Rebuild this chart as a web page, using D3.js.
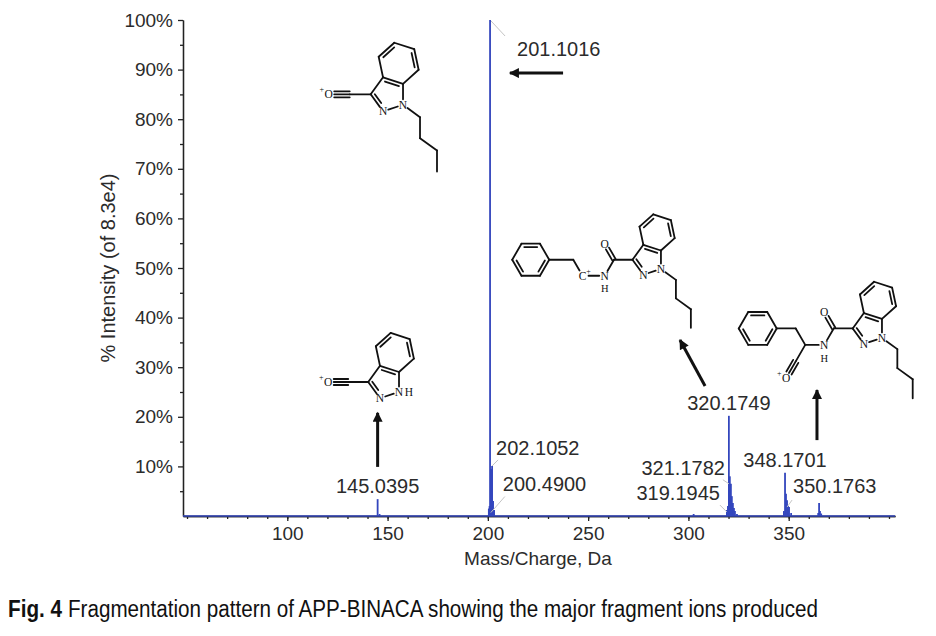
<!DOCTYPE html>
<html lang="en">
<head>
<meta charset="UTF-8">
<title>Fragmentation pattern of APP-BINACA</title>
<style>
  body { margin: 0; background: #fff; }
  svg { display: block; font-family: "Liberation Sans", Arial, Helvetica, sans-serif; }
  .axis path, .axis line { stroke: #222; stroke-width: 1.3; }
  .axis text { font-size: 19px; fill: #2b2b2b; font-family: "Liberation Sans", Arial, sans-serif; }
  .peak-label { font-size: 20px; fill: #2b2b2b; }
  .atom { font-family: "Liberation Serif", "Times New Roman", serif; font-size: 11.5px; fill: #111; }
  .caption { font-family: "Liberation Sans Narrow", "Arial Narrow", "Liberation Sans", sans-serif; font-size: 23px; fill: #111; }
</style>
</head>
<body>
<svg width="936" height="636"></svg>
<script src="https://cdnjs.cloudflare.com/ajax/libs/d3/7.8.5/d3.min.js"></script>
<script>
// spectrum sticks, m/z and % of base peak (8.3e4)
const peakMz  = [145.04, 146.0, 200.49, 200.85, 201.10, 201.60, 202.11, 202.60, 203.11, 302.6,
                 319.19, 319.70, 320.17, 320.65, 321.18, 321.65, 322.18, 322.70, 323.20, 324.2,
                 347.60, 348.17, 348.65, 349.17, 349.65, 350.18, 351.2, 364.70, 365.15, 365.6, 366.2];
const peakPct = [3.4, 0.4, 1.5, 2.0, 100, 9.5, 10.1, 3.0, 1.2, 0.4,
                 1.2, 2.0, 20.2, 8.0, 6.5, 4.0, 2.6, 1.6, 1.0, 0.4,
                 1.0, 8.7, 4.5, 3.2, 2.0, 1.8, 0.6, 0.6, 2.6, 1.0, 0.5];

// labelled ions
const labelMz  = [201.1016, 202.1052, 200.4900, 145.0395, 320.1749, 321.1782, 319.1945, 348.1701, 350.1763];
const labelPct = [100, 10.1, 1.5, 3.4, 20.2, 6.5, 1.2, 8.7, 1.8];

const yTicks = [10, 20, 30, 40, 50, 60, 70, 80, 90, 100];
const yMinor = [5, 15, 25, 35, 45, 55, 65, 75, 85, 95];
const xTicks = [100, 150, 200, 250, 300, 350];
const xMinor = d3.range(50, 401, 10);

// arrows (m/z, %) from -> to
const arrowFrom = [[237.5, 89.3], [145.04, 9.9], [308.3, 26.2], [364.1, 15.3]];
const arrowTo   = [[211.0, 89.3], [145.04, 20.8], [295.8, 35.5], [364.1, 25.4]];

// where each fragment structure sits (position of indazole N1)
const structAt = [[157.7, 82.9], [155.7, 25.0], [286.3, 49.8], [396.5, 35.9]];

const svg = d3.select("svg");

const x = d3.scaleLinear().domain([48, 403]).range([183, 895]);
const y = d3.scaleLinear().domain([0, 100]).range([516, 20]);

// axes
svg.append("g").attr("class", "axis")
  .attr("transform", `translate(${x(48)},0)`)
  .call(d3.axisLeft(y).tickValues(yMinor).tickSize(3).tickSizeOuter(0).tickFormat(""));
svg.append("g").attr("class", "axis")
  .attr("transform", `translate(${x(48)},0)`)
  .call(d3.axisLeft(y).tickValues(yTicks).tickSize(5).tickSizeOuter(0).tickPadding(5).tickFormat(d => d + "%"));

svg.append("g").attr("class", "axis")
  .attr("transform", `translate(0,${y(0)})`)
  .call(d3.axisBottom(x).tickValues(xMinor).tickSize(3).tickSizeOuter(0).tickFormat(""));
svg.append("g").attr("class", "axis")
  .attr("transform", `translate(0,${y(0)})`)
  .call(d3.axisBottom(x).tickValues(xTicks).tickSize(5).tickSizeOuter(0).tickPadding(5.5));

svg.append("text")
  .attr("transform", `translate(115,268) rotate(-90)`)
  .attr("text-anchor", "middle")
  .attr("font-size", 20).attr("fill", "#2b2b2b")
  .text("% Intensity (of 8.3e4)");

svg.append("text")
  .attr("x", 538).attr("y", 565)
  .attr("text-anchor", "middle")
  .attr("font-size", 19).attr("fill", "#2b2b2b")
  .text("Mass/Charge, Da");

// spectrum
const blue = "#3346bd";
svg.append("line")
  .attr("x1", x(48)).attr("x2", x(403))
  .attr("y1", y(0)).attr("y2", y(0))
  .attr("stroke", blue).attr("stroke-width", 1.3);

svg.append("g").selectAll("line")
  .data(peakMz)
  .join("line")
  .attr("x1", d => x(d)).attr("x2", d => x(d))
  .attr("y1", y(0))
  .attr("y2", (d, i) => y(peakPct[i]))
  .attr("stroke", blue)
  .attr("stroke-width", 1.8);

// peak labels, offsets in px from the peak top
const labelLayout = [
  {dx: 27, dy: 36, anchor: "start", leader: [1, 1, 15, 16]},
  {dx: 4, dy: -11, anchor: "start", leader: [0, 0, 6, -6]},
  {dx: 14, dy: -18, anchor: "start", leader: [2, 4, 16, -12]},
  {dx: 0, dy: -6, anchor: "middle"},
  {dx: 0, dy: -6, anchor: "middle"},
  {dx: -6, dy: -9, anchor: "end", leader: [-8, -4, -2, 0]},
  {dx: -7, dy: -10, anchor: "end", leader: [-7, -5, 0, 2]},
  {dx: 0, dy: -6, anchor: "middle"},
  {dx: 4, dy: -14, anchor: "start", leader: [3, -7, -2, 0]}
];

labelMz.forEach((m, i) => {
  const px = x(m), py = y(labelPct[i]), o = labelLayout[i];
  if (o.leader) {
    svg.append("line")
      .attr("x1", px + o.leader[0]).attr("y1", py + o.leader[1])
      .attr("x2", px + o.leader[2]).attr("y2", py + o.leader[3])
      .attr("stroke", "#c4c4c4").attr("stroke-width", 1);
  }
  svg.append("text")
    .attr("class", "peak-label")
    .attr("x", px + o.dx).attr("y", py + o.dy)
    .attr("text-anchor", o.anchor)
    .text(m.toFixed(4));
});

// arrows
svg.append("defs").append("marker")
  .attr("id", "head")
  .attr("viewBox", "0 0 10 10")
  .attr("refX", 9).attr("refY", 5)
  .attr("markerUnits", "userSpaceOnUse")
  .attr("markerWidth", 11).attr("markerHeight", 10)
  .attr("orient", "auto")
  .append("path").attr("d", "M0,0L10,5L0,10z").attr("fill", "#111");

svg.append("g").selectAll("line")
  .data(arrowFrom)
  .join("line")
  .attr("x1", d => x(d[0])).attr("y1", d => y(d[1]))
  .attr("x2", (d, i) => x(arrowTo[i][0])).attr("y2", (d, i) => y(arrowTo[i][1]))
  .attr("stroke", "#111").attr("stroke-width", 3)
  .attr("marker-end", "url(#head)");

// ---- fragment structures ----
const rad = Math.PI / 180;
const mol = svg.append("g")
  .attr("stroke", "#111").attr("stroke-width", 1.8)
  .attr("fill", "none").attr("stroke-linecap", "round");
const atoms = svg.append("g").attr("class", "atom").attr("text-anchor", "middle");
const T = 5.5;

const pt = (p, ang, len) => [p[0] + len * Math.cos(ang * rad), p[1] + len * Math.sin(ang * rad)];
const centroid = ps => [d3.mean(ps, p => p[0]), d3.mean(ps, p => p[1])];

function seg(a, b) {
  mol.append("line").attr("x1", a[0]).attr("y1", a[1]).attr("x2", b[0]).attr("y2", b[1]);
}

function bond(a, b, o = {}) {
  let dx = b[0] - a[0], dy = b[1] - a[1], d = Math.hypot(dx, dy);
  const ta = o.ta || 0, tb = o.tb || 0;
  const p = [a[0] + dx * ta / d, a[1] + dy * ta / d];
  const q = [b[0] - dx * tb / d, b[1] - dy * tb / d];
  dx = q[0] - p[0]; dy = q[1] - p[1]; d = Math.hypot(dx, dy);
  const nx = -dy / d, ny = dx / d;
  const order = o.order || 1;
  if (order === 1) { seg(p, q); return; }
  if (o.ring) {
    seg(p, q);
    const mx = (p[0] + q[0]) / 2, my = (p[1] + q[1]) / 2;
    const side = ((o.ring[0] - mx) * nx + (o.ring[1] - my) * ny) > 0 ? 1 : -1;
    const off = 3.4 * side, f = 0.15;
    seg([p[0] + dx * f + nx * off, p[1] + dy * f + ny * off],
        [q[0] - dx * f + nx * off, q[1] - dy * f + ny * off]);
    return;
  }
  const offs = order === 2 ? [-1.8, 1.8] : [-3, 0, 3];
  offs.forEach(k => seg([p[0] + nx * k, p[1] + ny * k], [q[0] + nx * k, q[1] + ny * k]));
}

function atom(p, txt, dx = 0, dy = 0, size) {
  const t = atoms.append("text")
    .attr("x", p[0] + dx).attr("y", p[1] + dy)
    .attr("dy", "0.35em")
    .text(txt);
  if (size) t.attr("font-size", size);
}

function indazole(n1, L) {
  const loc = {
    C3a: [0, 0], C4: [-0.5, -0.866], C5: [0, -1.732], C6: [1, -1.732], C7: [1.5, -0.866],
    C7a: [1, 0], N1: [1.309, 0.951], N2: [0.5, 1.539], C3: [-0.309, 0.951]
  };
  const c = Math.cos(18 * rad), s = Math.sin(18 * rad);
  const rot = p => [p[0] * c - p[1] * s, p[0] * s + p[1] * c];
  const r1 = rot(loc.N1);
  const a = {};
  for (const k in loc) {
    const r = rot(loc[k]);
    a[k] = [n1[0] + (r[0] - r1[0]) * L, n1[1] + (r[1] - r1[1]) * L];
  }
  const hc = centroid([a.C3a, a.C4, a.C5, a.C6, a.C7, a.C7a]);
  const pc = centroid([a.C3a, a.C7a, a.N1, a.N2, a.C3]);
  bond(a.C3a, a.C4);
  bond(a.C4, a.C5, {order: 2, ring: hc});
  bond(a.C5, a.C6);
  bond(a.C6, a.C7, {order: 2, ring: hc});
  bond(a.C7, a.C7a);
  bond(a.C3a, a.C7a, {order: 2, ring: pc});
  bond(a.C7a, a.N1, {tb: T});
  bond(a.N1, a.N2, {ta: T, tb: T});
  bond(a.N2, a.C3, {ta: T, order: 2, ring: pc});
  bond(a.C3, a.C3a);
  atom(a.N1, "N");
  atom(a.N2, "N");
  return a;
}

function butyl(n1, L) {
  let p = n1;
  [36, 90, 36, 90].forEach((ang, i) => {
    const q = pt(p, ang, L);
    bond(p, q, {ta: i === 0 ? T : 0});
    p = q;
  });
}

function phenyl(attach, L) {
  const c = pt(attach, 180, L);
  const v = d3.range(6).map(k => pt(c, k * 60, L));
  v.forEach((p, k) => bond(p, v[(k + 1) % 6], {order: k % 2 === 0 ? 2 : 1, ring: c}));
}

function acylium(from, ang, L) {
  const c = pt(from, ang, L), o = pt(c, ang, L);
  bond(from, c);
  bond(c, o, {order: 3, tb: T});
  atom(o, "O");
  atom(o, "+", -7, -5, 8);
}

function amideNH(n) {
  atom(n, "N");
  atom(n, "H", 0, 13, 10.5);
}

const S = structAt.map(d => [x(d[0]), y(d[1])]);

// 201 ion
{
  const L = 21, a = indazole(S[0], L);
  acylium(a.C3, 180, L);
  butyl(a.N1, L);
}
// 145 ion
{
  const L = 20, a = indazole(S[1], L);
  acylium(a.C3, 180, L);
  atom(a.N1, "H", 10, 0);
}
// 320 ion
{
  const L = 18.5, a = indazole(S[2], L);
  butyl(a.N1, L);
  const c = pt(a.C3, 180, L);
  bond(a.C3, c);
  const o = pt(c, -120, L);
  bond(c, o, {order: 2, tb: T});
  atom(o, "O");
  const n = pt(c, 120, L);
  bond(c, n, {tb: T});
  amideNH(n);
  const cp = pt(n, 180, 1.2 * L);
  bond(n, cp, {ta: T, tb: 6});
  atom(cp, "C");
  atom(cp, "+", 6, -5, 8);
  const ch2 = pt(cp, -120, L);
  bond(cp, ch2, {ta: 6});
  const ph = pt(ch2, 180, 1.3 * L);
  bond(ch2, ph);
  phenyl(ph, L);
}
// 348 ion
{
  const L = 19, a = indazole(S[3], L);
  butyl(a.N1, L);
  const c = pt(a.C3, 180, L);
  bond(a.C3, c);
  const o = pt(c, -120, L);
  bond(c, o, {order: 2, tb: T});
  atom(o, "O");
  const n = pt(c, 120, L);
  bond(c, n, {tb: T});
  amideNH(n);
  const al = pt(n, 180, L);
  bond(n, al, {ta: T});
  const ch2 = pt(al, -120, L);
  bond(al, ch2);
  const ph = pt(ch2, 180, L);
  bond(ch2, ph);
  phenyl(ph, L);
  acylium(al, 120, L);
}

// caption
svg.append("text")
  .attr("class", "caption")
  .attr("x", 8).attr("y", 617)
  .attr("font-weight", "bold")
  .attr("textLength", 54).attr("lengthAdjust", "spacingAndGlyphs")
  .text("Fig. 4");
svg.append("text")
  .attr("class", "caption")
  .attr("x", 68).attr("y", 617)
  .attr("textLength", 750).attr("lengthAdjust", "spacingAndGlyphs")
  .text("Fragmentation pattern of APP-BINACA showing the major fragment ions produced");
</script>
</body>
</html>
